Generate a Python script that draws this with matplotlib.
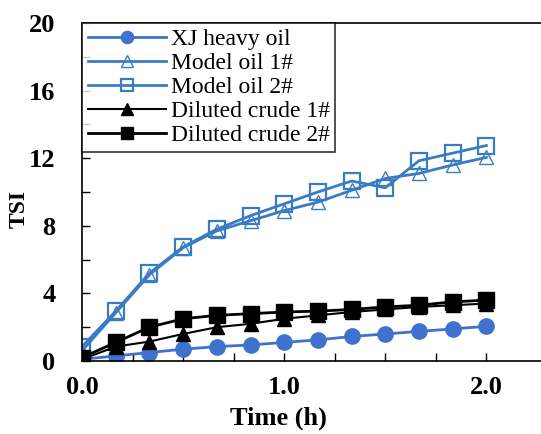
import matplotlib
matplotlib.use('Agg')
import matplotlib.pyplot as plt
import numpy as np

# --- Dados (TSI vs tempo) ---
time_h = [0, 1/6, 2/6, 3/6, 4/6, 5/6, 1.0, 7/6, 8/6, 9/6, 10/6, 11/6, 2.0]

xj_heavy = [0.1, 0.3, 0.5, 0.7, 0.85, 0.95, 1.1, 1.25, 1.45, 1.6, 1.75, 1.9, 2.05]
model_oil_1 = [0.6, 2.85, 5.1, 6.7, 7.7, 8.3, 8.9, 9.4, 10.1, 10.8, 11.1, 11.6, 12.05]
model_oil_2 = [0.85, 2.95, 5.2, 6.75, 7.8, 8.6, 9.3, 10.0, 10.65, 10.25, 11.85, 12.3, 12.75]
diluted_1 = [0.1, 0.85, 1.15, 1.6, 2.0, 2.2, 2.5, 2.7, 2.9, 3.05, 3.2, 3.3, 3.4]
diluted_2 = [0.2, 1.1, 2.0, 2.5, 2.7, 2.8, 2.9, 2.95, 3.05, 3.2, 3.3, 3.5, 3.6]

labels = ['XJ heavy oil', 'Model oil 1#', 'Model oil 2#', 'Diluted crude 1#', 'Diluted crude 2#']

x_ticks = np.arange(0, 2.01, 0.25)
x_ticklabels = ['0.0', '', '', '', '1.0', '', '', '', '2.0']
y_ticks = np.arange(0, 21, 2)
y_ticklabels = ['0', '', '4', '', '8', '', '12', '', '16', '', '20']

plt.rcParams['font.family'] = ['Liberation Serif', 'DejaVu Serif']

fig = plt.figure(figsize=(5.41, 4.34), dpi=100)
ax = fig.add_axes([82/541, 73/434, 459/541, 338/434])

blue1 = '#3F72CC'
blue2 = '#3A7CC4'

ax.plot(time_h, xj_heavy, '-o', color=blue1, lw=2, ms=11, label=labels[0])
ax.plot(time_h, model_oil_1, '-^', color=blue2, lw=2, ms=10, mfc='none', mew=1.0, label=labels[1])
ax.plot(time_h, model_oil_2, '-s', color=blue2, lw=2, ms=11, mfc='none', mew=1.6, label=labels[2])
ax.plot(time_h, diluted_1, '-^', color='black', lw=1.5, ms=10, label=labels[3])
ax.plot(time_h, diluted_2, '-s', color='black', lw=2, ms=11, label=labels[4])

ax.set_xlim(0, 2.27)
ax.set_ylim(0, 20)

ax.set_xticks(x_ticks)
ax.set_xticklabels(x_ticklabels)
ax.set_yticks(y_ticks)
ax.set_yticklabels(y_ticklabels)

ax.tick_params(direction='in', length=6, width=1.0, labelsize=19)
ax.tick_params(axis='y', pad=19)
ax.tick_params(axis='x', pad=11)
for lab in ax.get_xticklabels() + ax.get_yticklabels():
    lab.set_fontweight('bold')

ax.spines['right'].set_visible(False)
for s in ['left', 'top', 'bottom']:
    ax.spines[s].set_linewidth(1.2)

ax.set_xlabel('Time (h)', fontsize=19, fontweight='bold')
ax.xaxis.set_label_coords(196/459, -46/338)
ax.set_ylabel('TSI', fontsize=17, fontweight='bold')
ax.yaxis.set_label_coords(-52/459, 0.45)

leg = ax.legend(loc='upper left', fontsize=17, frameon=True, fancybox=False,
                edgecolor='black', handlelength=3.3, borderaxespad=0.0,
                borderpad=0.25, labelspacing=0.1, handletextpad=0.2,
                markerscale=0.8)
leg.get_frame().set_linewidth(1.2)

plt.savefig('out.png', dpi=100)
